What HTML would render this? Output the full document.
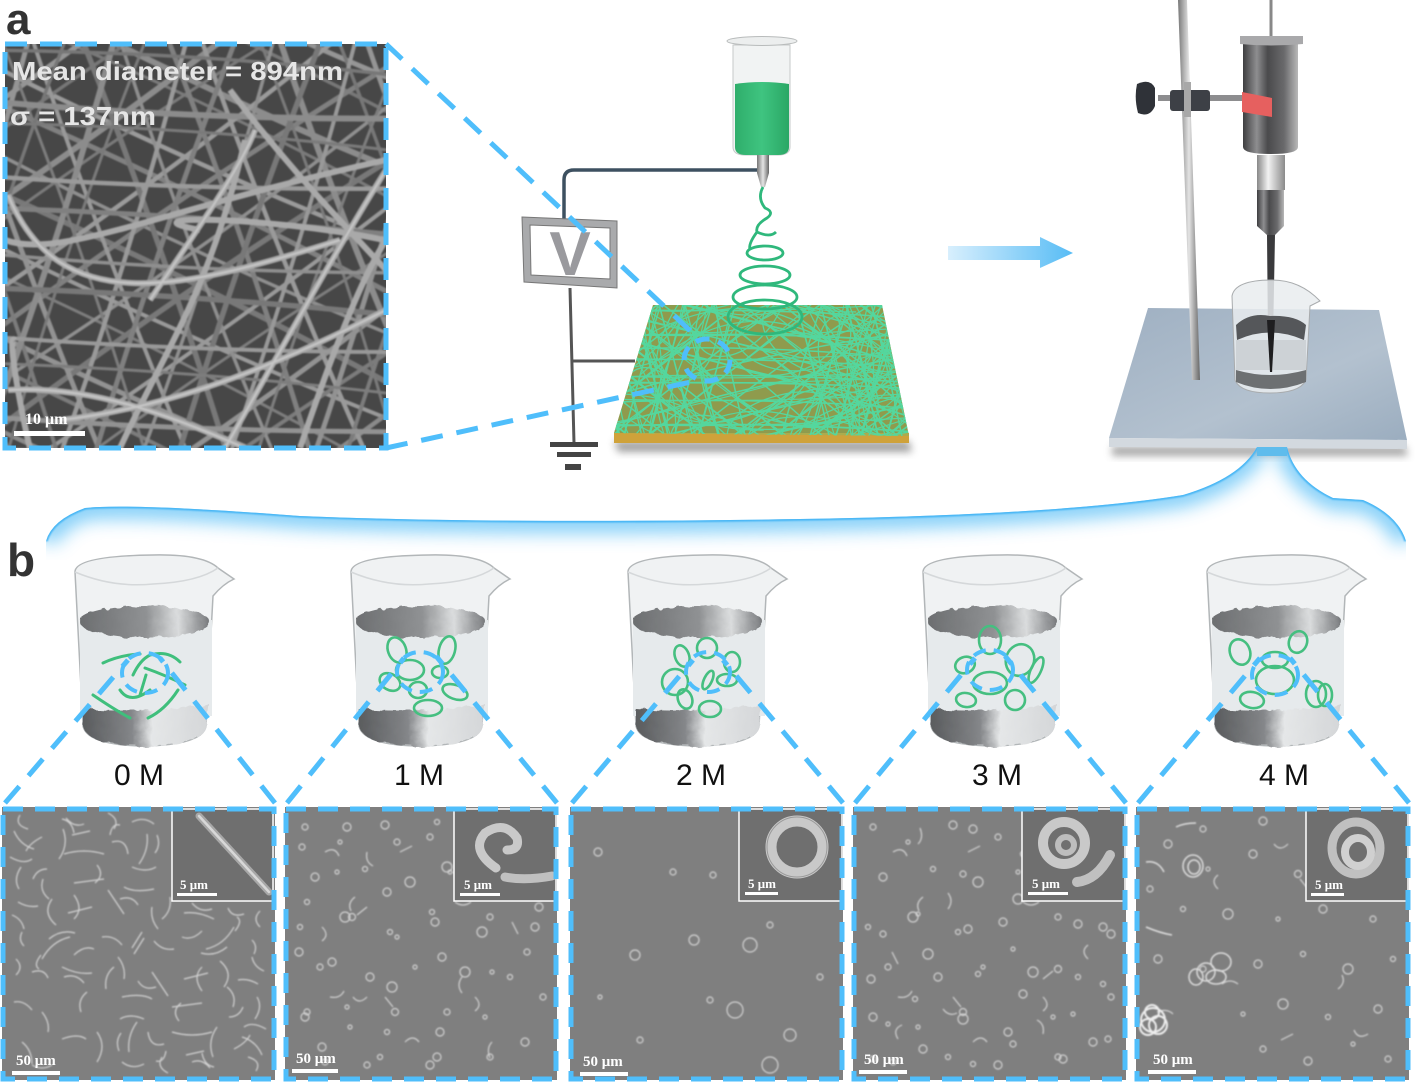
<!DOCTYPE html>
<html><head><meta charset="utf-8">
<style>html,body{margin:0;padding:0;background:#fff}svg{display:block}</style></head>
<body>
<svg xmlns="http://www.w3.org/2000/svg" width="1415" height="1087" viewBox="0 0 1415 1087" font-family="'Liberation Sans',sans-serif">
<defs>
<filter id="b1" x="-5%" y="-5%" width="110%" height="110%"><feGaussianBlur stdDeviation="0.7"/></filter>
<filter id="b2" x="-30%" y="-60%" width="160%" height="220%"><feGaussianBlur stdDeviation="4"/></filter>
<filter id="b3" x="-5%" y="-20%" width="110%" height="140%"><feGaussianBlur stdDeviation="9"/></filter>
<filter id="rough" x="-5%" y="-5%" width="110%" height="110%"><feTurbulence type="fractalNoise" baseFrequency="0.09" numOctaves="3" seed="4" result="n"/><feDisplacementMap in="SourceGraphic" in2="n" scale="7"/></filter>
<linearGradient id="arrow" x1="0" x2="1" y1="0" y2="0"><stop offset="0" stop-color="#d8effd"/><stop offset="1" stop-color="#57bcf5"/></linearGradient>
<linearGradient id="metal" x1="0" x2="1" y1="0" y2="0"><stop offset="0" stop-color="#3e3e40"/><stop offset=".25" stop-color="#8e8e90"/><stop offset=".45" stop-color="#4a4a4c"/><stop offset=".75" stop-color="#6a6a6c"/><stop offset="1" stop-color="#b8b8b8"/></linearGradient>
<linearGradient id="light" x1="0" x2="1" y1="0" y2="0"><stop offset="0" stop-color="#888"/><stop offset=".4" stop-color="#f2f2f2"/><stop offset="1" stop-color="#8a8a8a"/></linearGradient>
<linearGradient id="rod" x1="0" x2="1" y1="0" y2="0"><stop offset="0" stop-color="#777"/><stop offset=".5" stop-color="#e4e4e4"/><stop offset="1" stop-color="#666"/></linearGradient>
<linearGradient id="plate" x1="0" x2="1" y1="0" y2="1"><stop offset="0" stop-color="#9fb0c2"/><stop offset=".6" stop-color="#b3c1cf"/><stop offset="1" stop-color="#9badbf"/></linearGradient>
<linearGradient id="liq" x1="0" x2="1" y1="0" y2="0"><stop offset="0" stop-color="#2fae6b"/><stop offset=".5" stop-color="#3fc480"/><stop offset="1" stop-color="#2aa765"/></linearGradient>
<linearGradient id="wtop" x1="0" x2="1" y1="0" y2="0"><stop offset="0" stop-color="#6c6e70"/><stop offset=".5" stop-color="#8f9193"/><stop offset=".75" stop-color="#dadcdd"/><stop offset="1" stop-color="#75777a"/></linearGradient>
<linearGradient id="wbot" x1="0" x2="1" y1="0" y2="0"><stop offset="0" stop-color="#5a5c5e"/><stop offset=".4" stop-color="#85878a"/><stop offset=".55" stop-color="#e5e7e8"/><stop offset="1" stop-color="#d4d6d8"/></linearGradient>
<clipPath id="cA"><rect x="5" y="44" width="381" height="404"/></clipPath>
<clipPath id="cMat"><polygon points="653,305 882,305 909,436 614,433"/></clipPath>
<clipPath id="cBr"><path d="M46,541 Q52,520 85,508 Q130,503 300,516 Q500,524 800,519 Q1060,515 1183,495 Q1240,478 1257,447 H1287 Q1295,480 1333,498 L1363,500 Q1398,515 1406,541 L1406,570 H46 Z"/></clipPath>

<symbol id="beaker" viewBox="0 0 165 195" width="165" height="195" overflow="visible">
<path d="M2,18 Q2,2 80,1 Q130,0 145,14 L161,25 Q150,30 140,42 L133,172 Q130,191 70,192 Q14,191 10,172 Z" fill="#f0f2f3" stroke="#b2b6b8" stroke-width="1.5"/>
<path d="M2,18 Q40,34 80,30 Q125,28 145,14" fill="none" stroke="#d5d8da" stroke-width="1.5"/>
<rect x="7" y="66" width="132" height="96" fill="#e6eaec"/>
<ellipse cx="72" cy="68" rx="65" ry="16" fill="url(#wtop)" filter="url(#rough)"/>
<path d="M10,155 Q70,160 136,150 L133,172 Q130,191 70,192 Q14,191 10,172 Z" fill="url(#wbot)" filter="url(#rough)"/>
</symbol>

<g id="fa" fill="none">
<path d="M-140,-40 Q200,-70 530,-20" stroke="#7f7f7f" stroke-width="4"/>
<path d="M-140,5 Q190,30 530,-5" stroke="#959595" stroke-width="5"/>
<path d="M-140,50 Q220,25 530,60" stroke="#777" stroke-width="3.5"/>
<path d="M-140,88 Q190,110 530,80" stroke="#8c8c8c" stroke-width="6"/>
<path d="M-140,122 Q210,100 530,135" stroke="#7a7a7a" stroke-width="3"/>
<path d="M-140,165 Q180,180 530,150" stroke="#9a9a9a" stroke-width="4.5"/>
<path d="M-140,205 Q200,190 530,215" stroke="#808080" stroke-width="5"/>
<path d="M-140,240 Q220,262 530,235" stroke="#8f8f8f" stroke-width="3.5"/>
<path d="M-140,285 Q190,270 530,295" stroke="#787878" stroke-width="5.5"/>
<path d="M-140,325 Q210,340 530,315" stroke="#999" stroke-width="4"/>
<path d="M-140,360 Q190,345 530,375" stroke="#7d7d7d" stroke-width="3"/>
<path d="M-140,405 Q200,420 530,395" stroke="#929292" stroke-width="5"/>
<path d="M-140,445 Q220,430 530,460" stroke="#7b7b7b" stroke-width="4"/>
<path d="M-140,490 Q190,505 530,480" stroke="#8a8a8a" stroke-width="4.5"/>
<path d="M-140,530 Q200,515 530,545" stroke="#7f7f7f" stroke-width="4"/>
</g>

<g id="fm" fill="none" stroke="#5adca4">
<path d="M520,310 Q760,290 1000,325" stroke-width="1.5"/>
<path d="M520,325 Q760,345 1000,315" stroke-width="1.1"/>
<path d="M520,338 Q740,320 1000,345" stroke-width="1.6"/>
<path d="M520,350 Q780,365 1000,340" stroke-width="1.2"/>
<path d="M520,362 Q760,345 1000,372" stroke-width="1.5"/>
<path d="M520,375 Q740,390 1000,365" stroke-width="1.2"/>
<path d="M520,385 Q780,370 1000,395" stroke-width="1.7"/>
<path d="M520,398 Q760,415 1000,388" stroke-width="1.1"/>
<path d="M520,410 Q740,395 1000,420" stroke-width="1.5"/>
<path d="M520,422 Q780,438 1000,412" stroke-width="1.2"/>
<path d="M520,432 Q760,420 1000,440" stroke-width="1.6"/>
<path d="M620,330 Q700,420 800,340" stroke-width="1.2"/>
<path d="M700,320 Q820,440 900,330" stroke-width="1.3"/>
<path d="M640,420 Q760,310 880,425" stroke-width="1.2"/>
<path d="M780,350 C860,330 860,410 780,420 C720,425 700,370 780,350" stroke-width="1.3"/>
</g>

<g id="sp0" fill="none">
<path d="M18,8 q-6,10 8,14 M60,12 q10,2 12,14 M40,30 q-12,6 -16,14 M70,28 l18,-4 M8,50 q14,8 22,2 M110,35 q14,-4 16,12 M118,18 q-8,-2 -10,10 M45,62 q-10,0 -14,10 M95,58 q8,10 -2,18 M130,60 q14,6 24,0 M155,28 q4,10 -2,18"/>
<path d="M16,95 q10,6 20,4 M50,92 q-10,14 4,26 M90,100 l-24,6 M118,92 q12,-4 18,6 M150,100 q-2,12 6,22 M190,96 q8,10 20,6 M235,110 q6,4 -2,14 M258,104 q-8,8 0,16 M20,125 q-4,8 2,14 M68,130 q-18,4 -28,22"/>
<path d="M100,130 q12,-2 20,8 M140,125 l-10,16 M180,130 q10,4 20,-6 M225,140 q-12,10 -26,6 M250,150 q2,10 12,14 M30,165 q12,-4 16,6 M60,160 q16,8 30,6 M112,160 q-10,8 -8,22 M150,165 l16,24 M200,160 q-10,10 0,24"/>
<path d="M12,195 q10,-2 18,8 M40,205 q8,10 6,20 M85,185 q-10,8 -6,20 M120,190 q20,-4 30,2 M170,200 l30,-4 M225,180 q10,8 6,20 M255,190 q6,10 -2,22 M20,235 q10,8 10,22 M60,232 q16,-6 24,0 M95,225 q10,14 0,30"/>
<path d="M135,215 q-10,14 -8,30 M170,225 q20,6 40,0 M215,220 q-10,14 -4,30 M240,230 q14,4 20,18 M30,258 q10,6 20,0 M120,255 q10,8 22,2 M160,250 q-6,10 6,16 M190,255 q10,-4 18,6"/>
</g>

<g id="sp1" fill="none">
<circle cx="20" cy="20" r="3"/><circle cx="55" cy="35" r="2"/><circle cx="100" cy="18" r="4"/><circle cx="145" cy="30" r="3"/><circle cx="30" cy="70" r="4"/><circle cx="80" cy="62" r="2.5"/><circle cx="125" cy="75" r="5"/><circle cx="165" cy="65" r="2"/><circle cx="205" cy="110" r="3"/><circle cx="250" cy="120" r="4"/>
<circle cx="15" cy="120" r="2.5"/><circle cx="60" cy="110" r="5"/><circle cx="105" cy="125" r="2.5"/><circle cx="150" cy="115" r="4"/><circle cx="35" cy="160" r="3"/><circle cx="85" cy="170" r="4"/><circle cx="130" cy="160" r="2"/><circle cx="180" cy="165" r="5"/><circle cx="225" cy="170" r="2.5"/><circle cx="258" cy="190" r="3"/>
<circle cx="20" cy="210" r="4"/><circle cx="65" cy="220" r="2"/><circle cx="110" cy="205" r="3.5"/><circle cx="155" cy="225" r="4"/><circle cx="200" cy="210" r="2"/><circle cx="240" cy="235" r="4"/><circle cx="40" cy="255" r="3"/><circle cx="95" cy="250" r="2.5"/><circle cx="145" cy="258" r="4"/><circle cx="205" cy="250" r="3"/>
<path d="M40,45 q10,-6 14,4 M115,45 l12,-6 M70,90 q-8,6 -4,14 M170,95 q8,6 16,0 M100,190 l8,10 M45,190 q10,2 14,-6 M190,190 q8,8 0,14 M235,65 q6,6 16,2 M120,235 q8,-8 14,0"/>
</g>
</defs>

<text x="6" y="34" font-size="44" font-weight="bold" fill="#333">a</text>
<text x="7" y="576" font-size="46" font-weight="bold" fill="#333">b</text>

<!-- panel a SEM -->
<rect x="5" y="44" width="381" height="404" fill="#474747"/>
<g clip-path="url(#cA)"><g filter="url(#b1)">
<use href="#fa" transform="rotate(25 195 246)"/>
<use href="#fa" transform="rotate(-35 195 246)"/>
<use href="#fa" transform="rotate(70 195 246)"/>
<use href="#fa" transform="rotate(-72 195 246) translate(0 14)"/>
<use href="#fa" transform="rotate(3 195 246) translate(0 18)"/>
<g fill="none" stroke="#a9a9a9" stroke-width="6">
<path d="M8,195 C60,320 180,290 340,240"/><path d="M8,390 C90,385 170,415 245,448"/><path d="M225,448 C270,370 330,260 386,170"/><path d="M150,300 C190,240 240,170 255,130"/><path d="M5,240 C60,260 160,210 386,160"/><path d="M120,448 C170,340 210,290 245,140"/><path d="M15,340 C5,330 25,430 30,448"/><path d="M200,230 C120,215 260,215 385,240"/><path d="M230,90 C290,170 340,220 386,270"/><path d="M60,420 C150,410 250,380 386,310"/><path d="M300,448 C330,360 360,280 386,240"/>
</g>
<g fill="none" stroke="#c6c6c6" stroke-width="2">
<path d="M8,195 C60,320 180,290 340,240"/><path d="M8,390 C90,385 170,415 245,448"/><path d="M225,448 C270,370 330,260 386,170"/><path d="M150,300 C190,240 240,170 255,130"/><path d="M60,420 C150,410 250,380 386,310"/>
</g>
</g></g>
<text x="12" y="80" font-size="26" font-weight="bold" fill="#e6e6e6" textLength="331" lengthAdjust="spacingAndGlyphs">Mean diameter = 894nm</text>
<text x="10" y="125" font-size="26" font-weight="bold" fill="#e6e6e6" textLength="146" lengthAdjust="spacingAndGlyphs">σ = 137nm</text>
<text x="25" y="424" font-size="16" font-weight="bold" fill="#fff" font-family="'Liberation Serif',serif">10 μm</text>
<rect x="14" y="431" width="71" height="5" fill="#fff"/>

<!-- electrospinning -->
<path d="M614,441 H909 L912,452 H618 Z" fill="#555" opacity=".55" filter="url(#b2)"/>
<polygon points="653,305 882,305 909,436 614,433" fill="#a98c38"/>
<rect x="614" y="433" width="295" height="10" fill="#cfa23a"/>
<g clip-path="url(#cMat)">
<use href="#fm" transform="translate(0 -45)"/>
<use href="#fm" transform="translate(0 45)"/>
<use href="#fm" transform="rotate(38 760 370) translate(0 -75)"/>
<use href="#fm" transform="rotate(38 760 370) translate(0 75)"/>
<use href="#fm" transform="rotate(-38 760 370) translate(0 -75)"/>
<use href="#fm" transform="rotate(-38 760 370) translate(0 75)"/>
<use href="#fm" transform="rotate(75 760 370) translate(0 -110)"/>
<use href="#fm" transform="rotate(75 760 370) translate(0 95)"/>
<use href="#fm" transform="rotate(-75 760 370) translate(0 -100)"/>
<use href="#fm" transform="rotate(-75 760 370) translate(0 105)"/>
<use href="#fm" transform="rotate(14 760 370) translate(0 -55)"/>
<use href="#fm" transform="rotate(-14 760 370) translate(0 55)"/>
<rect x="610" y="300" width="300" height="140" fill="#44c98c" opacity=".25"/>
</g>
<path d="M757,170 H574 Q564,170 564,180 V220" fill="none" stroke="#3d5060" stroke-width="3.5"/>
<path d="M570,288 L574,443 M573,361 H635" fill="none" stroke="#555" stroke-width="3"/>
<g fill="#444"><rect x="550" y="442" width="48" height="5"/><rect x="557" y="452" width="34" height="5"/><rect x="565" y="464" width="16" height="6"/></g>
<path d="M522,217 L617,221 L617,288 L524,282 Z M530,225 L610,228 L610,279 L531,275 Z" fill="#a9aaac" fill-rule="evenodd" stroke="#777" stroke-width="1"/>
<text x="570" y="275" font-size="62" font-weight="bold" fill="#9a9a9e" text-anchor="middle">V</text>

<path d="M733,45 V147 Q733,155 745,155 H778 Q790,155 790,147 V45 Z" fill="#f1f3f3" stroke="#c6c9c9"/>
<path d="M735,84 Q762,80 789,84 V147 Q789,155 778,155 H746 Q735,155 735,147 Z" fill="url(#liq)"/>
<ellipse cx="762" cy="41" rx="35" ry="4.5" fill="#eceeee" stroke="#b8bbbb"/>
<path d="M757,155 H769 V173 L765,187 H761 L757,173 Z" fill="url(#rod)"/>
<g fill="none" stroke="#2fb87c" stroke-width="2.8">
<path d="M763,187 Q757,198 765,208 Q775,212 767,218 Q755,225 757,232 Q770,238 776,232"/>
<path d="M757,232 Q748,244 750,250"/>
<ellipse cx="765" cy="253" rx="18" ry="7"/>
<ellipse cx="765" cy="275" rx="25" ry="9"/>
<ellipse cx="765" cy="297" rx="32" ry="12"/>
<ellipse cx="765" cy="317" rx="37" ry="17"/>
</g>

<!-- big arrow -->
<path d="M948,246 H1040 V237 L1073,253 L1040,268 V260 H948 Z" fill="url(#arrow)"/>

<!-- stand -->
<path d="M1112,446 H1405 L1408,456 H1112 Z" fill="#555" opacity=".5" filter="url(#b2)"/>
<polygon points="1148,308 1379,310 1407,440 1109,438" fill="url(#plate)"/>
<polygon points="1109,438 1407,440 1407,449 1109,447" fill="#d3d9df"/>
<polygon points="1178,0 1187,0 1200,380 1192,380" fill="url(#rod)"/>
<rect x="1158" y="95" width="85" height="6" fill="#8d8d8f"/>
<path d="M1137,84 Q1150,78 1155,88 V106 Q1150,118 1138,113 Q1134,98 1137,84 Z" fill="#2f3238"/>
<rect x="1170" y="90" width="40" height="21" rx="3" fill="#3d4046"/>
<rect x="1184" y="82" width="7" height="35" fill="#a8a8a8"/>
<rect x="1269.5" y="0" width="3" height="36" fill="#888"/>
<path d="M1243,42 H1298 V147 Q1298,154 1271,154 Q1243,154 1243,147 Z" fill="url(#metal)"/>
<path d="M1240,36 H1303 V44 Q1271,47 1240,44 Z" fill="#a9a9ab"/>
<polygon points="1242,92 1272,98 1272,117 1242,112" fill="#e6605f"/>
<rect x="1257" y="155" width="28" height="35" fill="url(#light)"/>
<path d="M1257,190 H1284 V226 L1275,235 H1267 L1257,226 Z" fill="url(#metal)"/>
<polygon points="1267,235 1275,235 1273,340 1273,372 1270,372 1268,340" fill="#3a3a3c"/>
<path d="M1232,296 Q1235,280 1272,280 Q1300,280 1320,301 L1310,306 L1306,380 Q1300,393 1270,393 Q1240,393 1235,380 Z" fill="#e9ecee" fill-opacity=".85" stroke="#a8abad"/>
<path d="M1236,325 Q1250,312 1270,316 Q1295,315 1306,325 L1304,340 Q1270,325 1237,340 Z" fill="#55575a"/>
<rect x="1236" y="340" width="70" height="30" fill="#cdd2d6"/>
<path d="M1236,370 Q1270,380 1306,370 V382 Q1270,396 1236,382 Z" fill="#6d7072"/>
<polygon points="1267,320 1275,320 1272,372 1270,372" fill="#1e1e20"/>

<!-- blue bracket -->
<g clip-path="url(#cBr)">
<path d="M46,541 Q52,520 85,508 Q130,503 300,516 Q500,524 800,519 Q1060,515 1183,495 Q1240,478 1257,447 M1287,447 Q1295,480 1333,498 L1363,500 Q1398,515 1406,541" fill="none" stroke="#6cc6f7" stroke-width="24" opacity=".85" filter="url(#b3)"/>
<path d="M46,541 Q52,520 85,508 Q130,503 300,516 Q500,524 800,519 Q1060,515 1183,495 Q1240,478 1257,447 M1287,447 Q1295,480 1333,498 L1363,500 Q1398,515 1406,541" fill="none" stroke="#46b6f5" stroke-width="3.5" filter="url(#b1)"/>
<rect x="1257" y="447" width="30" height="9" fill="#5fbcec"/>
</g>

<!-- beakers -->
<use href="#beaker" x="73" y="554"/>
<use href="#beaker" x="349" y="554"/>
<use href="#beaker" x="626" y="554"/>
<use href="#beaker" x="921" y="554"/>
<use href="#beaker" x="1205" y="554"/>
<g fill="none" stroke="#3fbf7c" stroke-width="3" stroke-linecap="round">
<path d="M103,663 Q120,655 140,654"/><path d="M133,675 Q140,660 150,655 Q168,650 180,662"/><path d="M120,690 Q130,705 150,690"/><path d="M93,695 Q115,710 130,718"/><path d="M148,718 Q165,710 178,690"/><path d="M145,668 Q165,675 185,685"/><path d="M140,695 L146,675"/>
</g>
<g fill="none" stroke="#45bf80" stroke-width="2.6">
<ellipse cx="397" cy="650" rx="9" ry="13" transform="rotate(-20 397 650)"/><ellipse cx="447" cy="650" rx="8" ry="14" transform="rotate(15 447 650)"/><ellipse cx="410" cy="670" rx="14" ry="10"/><ellipse cx="390" cy="682" rx="11" ry="8" transform="rotate(30 390 682)"/><ellipse cx="455" cy="692" rx="13" ry="7" transform="rotate(20 455 692)"/><ellipse cx="428" cy="708" rx="14" ry="8"/><ellipse cx="418" cy="690" rx="9" ry="8"/><ellipse cx="440" cy="672" rx="8" ry="6"/>
<ellipse cx="682" cy="656" rx="7" ry="11" transform="rotate(-20 682 656)"/><ellipse cx="707" cy="648" rx="10" ry="10"/><ellipse cx="732" cy="662" rx="8" ry="10"/><ellipse cx="675" cy="682" rx="13" ry="13"/><ellipse cx="708" cy="680" rx="4" ry="10" transform="rotate(25 708 680)"/><ellipse cx="727" cy="680" rx="10" ry="6"/><ellipse cx="685" cy="699" rx="7" ry="10" transform="rotate(-20 685 699)"/><ellipse cx="710" cy="709" rx="11" ry="8"/>
<ellipse cx="990" cy="640" rx="11" ry="14"/><ellipse cx="965" cy="665" rx="10" ry="8" transform="rotate(-20 965 665)"/><ellipse cx="1020" cy="660" rx="14" ry="16" transform="rotate(20 1020 660)"/><ellipse cx="990" cy="683" rx="17" ry="11"/><ellipse cx="966" cy="700" rx="10" ry="7" transform="rotate(10 966 700)"/><ellipse cx="1015" cy="700" rx="10" ry="10"/><ellipse cx="1036" cy="670" rx="5" ry="14" transform="rotate(25 1036 670)"/>
<ellipse cx="1240" cy="652" rx="10" ry="13" transform="rotate(-20 1240 652)"/><ellipse cx="1298" cy="642" rx="9" ry="11" transform="rotate(20 1298 642)"/><ellipse cx="1275" cy="680" rx="19" ry="14"/><ellipse cx="1252" cy="700" rx="12" ry="8" transform="rotate(10 1252 700)"/><ellipse cx="1316" cy="694" rx="10" ry="13"/><ellipse cx="1325" cy="695" rx="7" ry="11"/><ellipse cx="1275" cy="660" rx="13" ry="8"/>
</g>

<g font-size="30" fill="#111" text-anchor="middle">
<text x="139" y="785">0 M</text><text x="419" y="785">1 M</text><text x="701" y="785">2 M</text><text x="997" y="785">3 M</text><text x="1284" y="785">4 M</text>
</g>

<!-- SEM panels -->
<g fill="#7f7f7f">
<rect x="2" y="807" width="273" height="273"/><rect x="285" y="807" width="272" height="273"/><rect x="570" y="807" width="273" height="273"/><rect x="853" y="807" width="273" height="273"/><rect x="1136" y="807" width="273" height="273"/>
</g>
<g filter="url(#b1)" stroke="#d2d2d2" stroke-width="1.2">
<g transform="translate(2 807)"><use href="#sp0"/><use href="#sp0" transform="rotate(180 136 136)"/></g>
<g transform="translate(285 807)"><use href="#sp1"/><use href="#sp1" transform="rotate(90 136 136)"/></g>
<g transform="translate(570 807)" fill="none">
<circle cx="28" cy="45" r="4"/><circle cx="103" cy="65" r="3"/><circle cx="143" cy="68" r="3"/><circle cx="65" cy="148" r="5"/><circle cx="124" cy="133" r="5"/><circle cx="180" cy="138" r="7"/><circle cx="200" cy="118" r="3"/><circle cx="165" cy="203" r="8"/><circle cx="220" cy="228" r="6"/><circle cx="200" cy="258" r="8"/><circle cx="140" cy="193" r="3"/><circle cx="70" cy="233" r="3"/><circle cx="250" cy="170" r="3"/><circle cx="30" cy="190" r="2"/>
</g>
<g transform="translate(853 807)"><use href="#sp1"/><use href="#sp1" transform="rotate(270 136 136)"/></g>
<g transform="translate(1136 807)"><use href="#sp1" transform="rotate(180 136 136)"/>
<g fill="none" stroke="#dcdcdc" stroke-width="1.5">
<ellipse cx="57" cy="59" rx="10" ry="11"/><ellipse cx="58" cy="60" rx="6" ry="7"/>
<ellipse cx="85" cy="155" rx="10" ry="9"/><ellipse cx="70" cy="165" rx="9" ry="9"/><ellipse cx="80" cy="170" rx="10" ry="7"/><ellipse cx="60" cy="170" rx="7" ry="8"/>
<path d="M10,55 q12,-2 18,10 M40,20 q8,-4 20,-4 M10,120 q14,6 26,8"/>
</g>
<g fill="none" stroke="#eee" stroke-width="2"><circle cx="17" cy="213" r="12"/><circle cx="12" cy="220" r="8"/><circle cx="22" cy="218" r="9"/><circle cx="16" cy="205" r="7"/></g>
</g>
</g>

<!-- insets -->
<g fill="#6f6f6f" stroke="#fff" stroke-width="1.5">
<rect x="172" y="809" width="101" height="92"/><rect x="454" y="809" width="102" height="92"/><rect x="739" y="809" width="103" height="92"/><rect x="1022" y="809" width="103" height="92"/><rect x="1306" y="809" width="102" height="92"/>
</g>
<g fill="none" stroke-linecap="round">
<path d="M199,816 L269,892" stroke="#a8a8a8" stroke-width="7"/><path d="M199,816 L269,892" stroke="#d8d8d8" stroke-width="2.5"/>
<path d="M496,868 Q470,850 485,833 Q505,820 517,838 Q520,850 507,850" stroke="#c9c9c9" stroke-width="9"/><path d="M505,877 Q525,881 552,876" stroke="#c0c0c0" stroke-width="9"/>
<circle cx="797" cy="847" r="26" stroke="#c9c9c9" stroke-width="11"/><circle cx="797" cy="847" r="30" stroke="#9a9a9a" stroke-width="1"/>
<circle cx="1064" cy="843" r="21" stroke="#c9c9c9" stroke-width="10"/><circle cx="1066" cy="845" r="8" stroke="#bdbdbd" stroke-width="6"/><path d="M1077,882 Q1097,880 1110,855" stroke="#c0c0c0" stroke-width="10"/>
<ellipse cx="1356" cy="848" rx="24" ry="26" stroke="#c0c0c0" stroke-width="9"/><ellipse cx="1358" cy="852" rx="13" ry="14" stroke="#d0d0d0" stroke-width="8"/>
</g>

<g font-family="'Liberation Serif',serif" font-weight="bold" fill="#fff">
<text x="16" y="1065" font-size="15">50 μm</text><rect x="12" y="1071" width="48" height="4"/>
<text x="296" y="1063" font-size="15">50 μm</text><rect x="292" y="1069" width="46" height="4"/>
<text x="583" y="1066" font-size="15">50 μm</text><rect x="580" y="1072" width="48" height="4"/>
<text x="864" y="1064" font-size="15">50 μm</text><rect x="859" y="1070" width="48" height="4"/>
<text x="1153" y="1064" font-size="15">50 μm</text><rect x="1148" y="1070" width="48" height="4"/>
<text x="180" y="889" font-size="13">5 μm</text><rect x="177" y="893" width="40" height="3"/>
<text x="464" y="889" font-size="13">5 μm</text><rect x="460" y="893" width="40" height="3"/>
<text x="748" y="888" font-size="13">5 μm</text><rect x="745" y="892" width="33" height="3"/>
<text x="1032" y="888" font-size="13">5 μm</text><rect x="1028" y="892" width="40" height="3"/>
<text x="1315" y="889" font-size="13">5 μm</text><rect x="1311" y="893" width="33" height="3"/>
</g>

<!-- dashed zooms -->
<g fill="none" stroke="#4fbefb" stroke-width="5">
<rect x="5" y="44" width="381" height="404" stroke-dasharray="22 13"/>
<path d="M386,44 L700,340" stroke-dasharray="22 14"/>
<path d="M386,448 L700,380" stroke-dasharray="22 14"/>
<ellipse cx="707" cy="360" rx="23" ry="21" stroke-dasharray="14 9"/>
<g stroke-dasharray="20 12">
<rect x="3" y="809" width="271" height="270"/><rect x="286" y="809" width="270" height="270"/><rect x="571" y="809" width="271" height="270"/><rect x="854" y="809" width="271" height="270"/><rect x="1137" y="809" width="271" height="270"/>
</g>
<g stroke-dasharray="22 14">
<path d="M5,803 L128,660"/><path d="M275,803 L160,658"/>
<path d="M287,803 L404,658"/><path d="M557,803 L436,656"/>
<path d="M572,803 L693,660"/><path d="M843,803 L723,660"/>
<path d="M855,803 L975,658"/><path d="M1126,803 L1005,656"/>
<path d="M1138,803 L1260,658"/><path d="M1409,803 L1290,658"/>
</g>
<g stroke-width="4" stroke-dasharray="13 8">
<ellipse cx="145" cy="673" rx="23" ry="20"/><ellipse cx="420" cy="672" rx="23" ry="20"/><ellipse cx="708" cy="672" rx="22" ry="20"/><ellipse cx="990" cy="670" rx="23" ry="20"/><ellipse cx="1275" cy="675" rx="23" ry="20"/>
</g>
</g>
</svg>
</body></html>
